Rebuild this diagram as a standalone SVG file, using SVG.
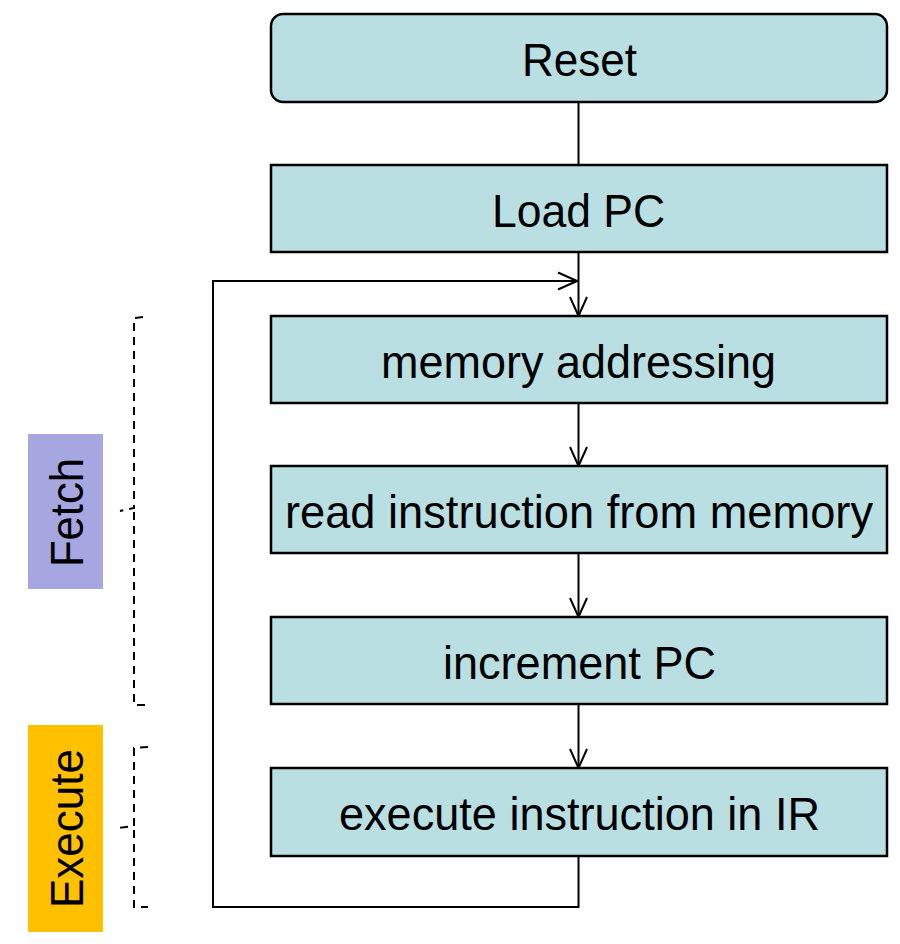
<svg xmlns="http://www.w3.org/2000/svg" width="900" height="944" viewBox="0 0 900 944">
<defs>
<style>
.box{fill:#badfe2;stroke:#000;stroke-width:2.5}
.lbl{font-family:"Liberation Sans",Arial,sans-serif;font-size:47px;fill:#000;text-anchor:middle}
.conn{fill:none;stroke:#000;stroke-width:2}
.brace{fill:none;stroke:#000;stroke-width:2;stroke-dasharray:8,6}
</style>
<marker id="arr" viewBox="0 0 22 20" refX="21" refY="10" markerWidth="22" markerHeight="20" markerUnits="userSpaceOnUse" orient="auto">
<path d="M2,1.5 L21,10 L2,18.5" fill="none" stroke="#000" stroke-width="2"/>
</marker>
</defs>
<rect width="900" height="944" fill="#fff"/>
<g id="connectors">
<line class="conn" x1="578.5" y1="102" x2="578.5" y2="165"/>
<line class="conn" x1="578.5" y1="252" x2="578.5" y2="316" marker-end="url(#arr)"/>
<line class="conn" x1="578.5" y1="403" x2="578.5" y2="466" marker-end="url(#arr)"/>
<line class="conn" x1="578.5" y1="553" x2="578.5" y2="617" marker-end="url(#arr)"/>
<line class="conn" x1="578.5" y1="704" x2="578.5" y2="768" marker-end="url(#arr)"/>
<path class="conn" d="M578.5,856 V907 H213 V281 H577" marker-end="url(#arr)"/>
</g>
<g id="reset"><rect class="box" x="271" y="14" width="616" height="88" rx="12"/><text class="lbl" x="579.5" y="76" textLength="115" lengthAdjust="spacingAndGlyphs">Reset</text></g>
<g id="loadpc"><rect class="box" x="271" y="165" width="616" height="87"/><text class="lbl" x="578.5" y="227" textLength="173" lengthAdjust="spacingAndGlyphs">Load PC</text></g>
<g id="memaddr"><rect class="box" x="271" y="316" width="616" height="87"/><text class="lbl" x="578.5" y="378" textLength="395" lengthAdjust="spacingAndGlyphs">memory addressing</text></g>
<g id="readinstr"><rect class="box" x="271" y="466" width="616" height="87"/><text class="lbl" x="579" y="528" textLength="588" lengthAdjust="spacingAndGlyphs">read instruction from memory</text></g>
<g id="incpc"><rect class="box" x="271" y="617" width="616" height="87"/><text class="lbl" x="579.5" y="679" textLength="273" lengthAdjust="spacingAndGlyphs">increment PC</text></g>
<g id="exec"><rect class="box" x="271" y="768" width="616" height="88"/><text class="lbl" x="579.5" y="830" textLength="481" lengthAdjust="spacingAndGlyphs">execute instruction in IR</text></g>
<g id="fetch-label"><rect x="28" y="434" width="75" height="155" fill="#a6a6e0"/><text class="lbl" transform="translate(83,512.5) rotate(-90)" textLength="109" lengthAdjust="spacingAndGlyphs">Fetch</text></g>
<g id="execute-label"><rect x="28" y="725" width="75" height="207" fill="#ffc000"/><text class="lbl" transform="translate(83,828.5) rotate(-90)" textLength="159" lengthAdjust="spacingAndGlyphs">Execute</text></g>
<g id="fetch-brace"><path class="brace" d="M143,317 L134,318 V508 L120,511 M134,512 V705 L148,705"/></g>
<g id="execute-brace"><path class="brace" d="M148,747 L134,748 V826 L118,828 M134,830 V907 L148,907"/></g>
</svg>
